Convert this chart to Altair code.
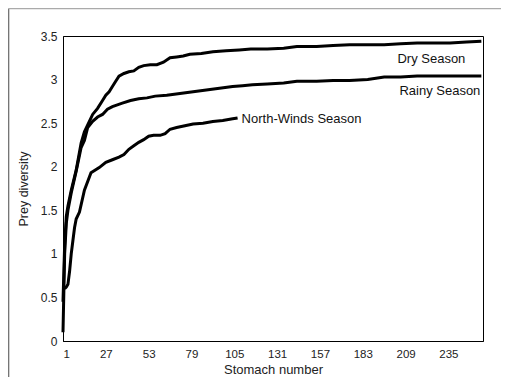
import altair as alt
import pandas as pd

dry_x = [1, 2, 3, 4, 6, 9, 12, 14, 16, 19, 22, 25, 27, 29, 31, 33, 35, 38, 41, 44, 47, 50, 54, 58, 62, 66, 70, 74, 78, 85, 92, 100, 108, 115, 125, 135, 143, 155, 165, 175, 186, 196, 206, 216, 226, 236, 246, 255]
dry_y = [0.45, 1.1, 1.43, 1.55, 1.73, 1.96, 2.27, 2.4, 2.48, 2.6, 2.67, 2.76, 2.82, 2.86, 2.92, 2.98, 3.04, 3.07, 3.09, 3.1, 3.14, 3.16, 3.17, 3.17, 3.2, 3.25, 3.26, 3.27, 3.29, 3.3, 3.32, 3.33, 3.34, 3.35, 3.35, 3.36, 3.38, 3.38, 3.39, 3.4, 3.4, 3.4, 3.41, 3.42, 3.42, 3.42, 3.43, 3.44]

rainy_x = [1, 2, 3, 4, 6, 9, 12, 14, 16, 19, 22, 25, 28, 31, 34, 37, 42, 47, 52, 57, 64, 72, 80, 88, 96, 104, 110, 116, 125, 135, 143, 155, 165, 175, 186, 196, 206, 216, 226, 236, 246, 255]
rainy_y = [0.1, 1.0, 1.35, 1.5, 1.7, 1.95, 2.22, 2.3, 2.45, 2.52, 2.57, 2.6, 2.66, 2.69, 2.71, 2.73, 2.76, 2.78, 2.79, 2.81, 2.82, 2.84, 2.86, 2.88, 2.9, 2.92, 2.93, 2.94, 2.95, 2.96, 2.98, 2.98, 2.99, 2.99, 3.0, 3.03, 3.03, 3.04, 3.04, 3.04, 3.04, 3.04]

nw_x = [2, 3, 4, 5, 6, 7, 8, 9, 11, 14, 18, 23, 27, 31, 35, 38, 41, 44, 47, 50, 53, 56, 60, 63, 66, 70, 75, 80, 86, 92, 98, 104, 107]
nw_y = [0.6, 0.62, 0.65, 0.8, 1.0, 1.15, 1.3, 1.4, 1.48, 1.73, 1.93, 1.99, 2.05, 2.08, 2.11, 2.14, 2.2, 2.24, 2.28, 2.31, 2.35, 2.36, 2.36, 2.38, 2.43, 2.45, 2.47, 2.49, 2.5, 2.52, 2.53, 2.55, 2.56]

series_names = ["Dry Season", "Rainy Season", "North-Winds Season"]
x_ticks = [1, 27, 53, 79, 105, 131, 157, 183, 209, 235]
y_ticks = [0, 0.5, 1, 1.5, 2, 2.5, 3, 3.5]

frames = []
for name, xs, ys in zip(series_names, [dry_x, rainy_x, nw_x], [dry_y, rainy_y, nw_y]):
    frames.append(pd.DataFrame({"stomach": xs, "diversity": ys, "season": name}))
df = pd.concat(frames, ignore_index=True)
last = df.groupby("season", sort=False).tail(1).reset_index(drop=True)

FONT = "Liberation Sans"

xscale = alt.Scale(domain=[1, 256], nice=False, zero=False)
yscale = alt.Scale(domain=[0, 3.5], nice=False)

lines = alt.Chart(df).mark_line(color="black", strokeWidth=3, interpolate="linear").encode(
    x=alt.X("stomach:Q", scale=xscale, title="Stomach number",
            axis=alt.Axis(values=x_ticks, grid=False, ticks=False, labelPadding=7,
                          labelFontSize=11.5, titleFontSize=13,
                          titlePadding=4, domainColor="black")),
    y=alt.Y("diversity:Q", scale=yscale, title="Prey diversity",
            axis=alt.Axis(values=y_ticks, format="~g", grid=False, ticks=False,
                          labelFontSize=12, titleFontSize=12.5,
                          labelPadding=6, titlePadding=10, domainColor="black")),
    detail="season:N",
)

def label(name, dx, dy, align):
    return alt.Chart(last[last.season == name]).mark_text(
        font=FONT, fontSize=13, color="#111", align=align, dx=dx, dy=dy, baseline="middle"
    ).encode(x=alt.X("stomach:Q", scale=xscale), y=alt.Y("diversity:Q", scale=yscale), text="season:N")

labels = [
    label("Dry Season", -16, 18, "right"),
    label("Rainy Season", -1, 15, "right"),
    label("North-Winds Season", 4, 1, "left"),
]

dummy = pd.DataFrame({"a": [0]})
left_line = alt.Chart(dummy).mark_rule(color="#666", strokeWidth=1.2).encode(
    x=alt.value(-54.3), y=alt.value(-27.5), y2=alt.value(345))
top_line = alt.Chart(dummy).mark_rule(color="#aaa", strokeWidth=1.2).encode(
    x=alt.value(-54.3), x2=alt.value(440), y=alt.value(-27.3))

chart = alt.layer(left_line, top_line, lines, *labels).properties(
    width=420, height=305,
    autosize=alt.AutoSizeParams(type="none"),
    padding={"left": 55, "top": 28, "right": 18, "bottom": 36},
).configure_view(stroke="black", strokeWidth=1).configure_axis(
    labelFont=FONT, titleFont=FONT,
    labelColor="#222", titleColor="#222", titleFontWeight="normal"
)

chart.save("out.html", embed_options={"renderer": "svg", "actions": False})
